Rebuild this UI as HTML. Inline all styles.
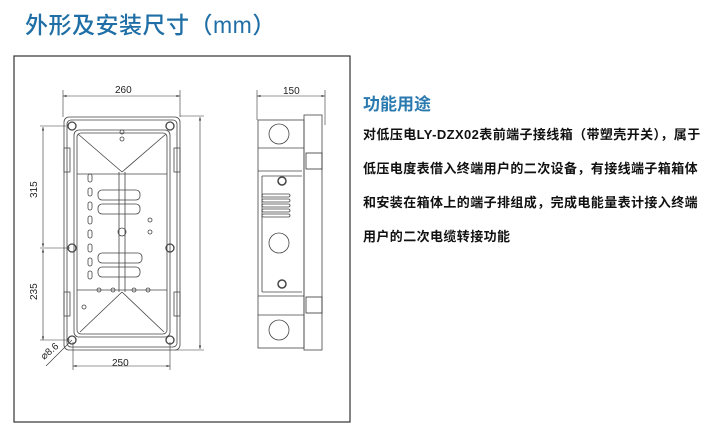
<!DOCTYPE html>
<html><head><meta charset="utf-8"><style>
body{margin:0;width:722px;height:435px;background:#fff;overflow:hidden;position:relative;font-family:"Liberation Sans","Noto Sans CJK SC",sans-serif}
.t{position:absolute;left:25px;top:6px;font-size:23px;color:#1f6fa6;font-weight:500;letter-spacing:0.5px}
.h{position:absolute;left:363px;top:90px;font-size:17px;color:#2a7ab0;font-weight:bold}
.p{position:absolute;left:363px;top:118px;width:360px;font-size:13px;font-weight:bold;color:#111;line-height:34px;letter-spacing:0.4px;white-space:nowrap}
svg{position:absolute;left:0;top:0}
</style></head><body>
<div class="t">外形及安装尺寸（mm）</div>
<svg width="722" height="435" viewBox="0 0 722 435" font-family="Liberation Sans" fill="none" stroke="#444" stroke-width="0.8">
<defs><marker id="a" viewBox="0 0 10 10" refX="10" refY="5" markerWidth="6" markerHeight="6" orient="auto-start-reverse"><path d="M0,2L10,5L0,8z" fill="#333" stroke="none"/></marker></defs>
<rect x="14" y="56" width="336" height="366" stroke="#333" stroke-width="1.2"/>
<g stroke="#333" stroke-width="0.6">
<line x1="63" y1="96" x2="180" y2="96" marker-start="url(#a)" marker-end="url(#a)"/><line x1="63" y1="90" x2="63" y2="117"/><line x1="180" y1="90" x2="180" y2="117"/>
<line x1="200" y1="117" x2="200" y2="349" marker-start="url(#a)" marker-end="url(#a)"/><line x1="180" y1="116" x2="204" y2="116"/><line x1="175" y1="350" x2="204" y2="350"/>
<line x1="43" y1="127" x2="43" y2="247" marker-start="url(#a)" marker-end="url(#a)"/><line x1="43" y1="249" x2="43" y2="340" marker-start="url(#a)" marker-end="url(#a)"/><line x1="40" y1="126" x2="66" y2="126"/><line x1="40" y1="248" x2="70" y2="248"/><line x1="40" y1="340" x2="70" y2="340"/>
<line x1="73" y1="366" x2="170" y2="366" marker-start="url(#a)" marker-end="url(#a)"/><line x1="73" y1="342" x2="73" y2="370"/><line x1="170" y1="342" x2="170" y2="370"/>
<line x1="46" y1="366" x2="72" y2="340"/>
<line x1="257" y1="96" x2="325" y2="96" marker-start="url(#a)" marker-end="url(#a)"/><line x1="257" y1="90" x2="257" y2="120"/><line x1="325" y1="90" x2="325" y2="125"/>
</g>
<g fill="#222" stroke="none" font-size="10">
<text x="115" y="93">260</text><text x="283" y="94">150</text><text x="112" y="366">250</text>
<text transform="translate(37,198) rotate(-90)">315</text>
<text transform="translate(37,300) rotate(-90)">235</text>
<text transform="translate(44,360) rotate(-40)">⌀8.6</text>
</g>
<rect x="64" y="117" width="116" height="233" rx="5"/>
<rect x="67" y="120" width="110" height="227" rx="4"/>
<rect x="74" y="130" width="96" height="207" rx="5"/>
<rect x="77" y="133" width="90" height="201" rx="4"/>
<line x1="77" y1="174" x2="167" y2="174"/><line x1="77" y1="290" x2="167" y2="290"/>
<line x1="78" y1="134" x2="122" y2="172"/><line x1="166" y1="134" x2="122" y2="172"/>
<line x1="80" y1="332" x2="122" y2="292"/><line x1="164" y1="332" x2="122" y2="292"/>
<line x1="119" y1="172" x2="119" y2="292"/><line x1="125" y1="172" x2="125" y2="292"/>
<rect x="98" y="190" width="42" height="10" rx="4"/><rect x="98" y="204" width="42" height="10" rx="4"/>
<rect x="98" y="253" width="44" height="10" rx="4"/><rect x="98" y="267" width="42" height="10" rx="4"/>
<g>
<rect x="88" y="174" width="4" height="8" rx="2"/><rect x="88" y="188" width="4" height="8" rx="2"/><rect x="88" y="202" width="4" height="8" rx="2"/><rect x="88" y="216" width="4" height="8" rx="2"/><rect x="88" y="230" width="4" height="8" rx="2"/><rect x="88" y="244" width="4" height="8" rx="2"/><rect x="88" y="258" width="4" height="8" rx="2"/><rect x="88" y="271" width="4" height="8" rx="2"/>
</g>
<circle cx="122" cy="232" r="4"/><circle cx="150" cy="220" r="2"/><circle cx="150" cy="232" r="2"/><circle cx="122" cy="132" r="2"/><circle cx="122" cy="139" r="2"/>
<circle cx="99" cy="290" r="2"/><circle cx="113" cy="290" r="2"/><circle cx="134" cy="290" r="2"/><circle cx="148" cy="290" r="2"/><circle cx="84" cy="307" r="2"/>
<rect x="64" y="148" width="6" height="24" /><rect x="174" y="148" width="6" height="24"/>
<rect x="64" y="292" width="6" height="24" /><rect x="174" y="292" width="6" height="24"/>
<g stroke="#444" stroke-width="1.3"><circle cx="72" cy="126" r="4"/><circle cx="170" cy="126" r="4"/><circle cx="72" cy="248" r="4"/><circle cx="170" cy="248" r="4"/><circle cx="72" cy="340" r="4"/><circle cx="170" cy="340" r="4"/></g>
<rect x="258" y="120" width="46" height="228"/>
<rect x="304" y="115" width="18" height="235"/>
<line x1="258" y1="148" x2="304" y2="148"/><line x1="258" y1="171" x2="302" y2="171"/><line x1="262" y1="176" x2="302" y2="176"/>
<line x1="262" y1="176" x2="262" y2="292"/><line x1="262" y1="292" x2="302" y2="292"/><line x1="258" y1="296" x2="304" y2="296"/><line x1="258" y1="315" x2="304" y2="315"/>
<circle cx="279" cy="134" r="10"/><circle cx="279" cy="243" r="10"/><circle cx="279" cy="330" r="10"/>
<circle cx="282" cy="181" r="4" stroke-width="1.5"/><circle cx="282" cy="284" r="4" stroke-width="1.5"/>
<g><rect x="262" y="194" width="28" height="3" rx="1.5"/><rect x="262" y="199" width="28" height="3" rx="1.5"/><rect x="262" y="204" width="28" height="3" rx="1.5"/><rect x="262" y="209" width="28" height="3" rx="1.5"/><rect x="262" y="214" width="28" height="3" rx="1.5"/></g>
<rect x="306" y="153" width="16" height="16" stroke="#333"/><rect x="306" y="297" width="16" height="16" stroke="#333"/>
</svg>
<div class="h">功能用途</div>
<div class="p">对低压电LY-DZX02表前端子接线箱（带塑壳开关），属于<br>低压电度表借入终端用户的二次设备，有接线端子箱箱体<br>和安装在箱体上的端子排组成，完成电能量表计接入终端<br>用户的二次电缆转接功能</div>
</body></html>
